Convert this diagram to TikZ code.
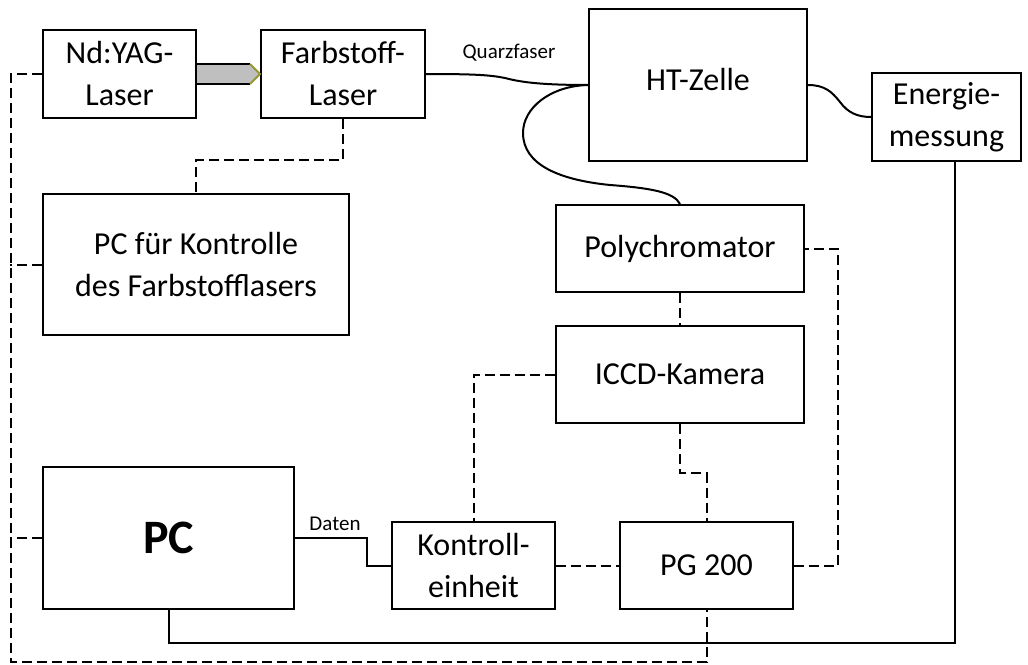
\documentclass[tikz,border=0pt]{standalone}
\usepackage{fontspec}
\setmainfont{Carlito}
\usetikzlibrary{calc}
\tikzset{
  box/.style={draw, line width=1pt, fill=white, inner sep=0pt, align=center,
    font=\fontsize{16}{21}\selectfont},
  conn/.style={line width=1pt},
  dconn/.style={line width=1pt, dash pattern=on 5pt off 2.5pt},
  small/.style={font=\fontsize{10.5}{12}\selectfont, inner sep=0pt},
}
\begin{document}
\begin{tikzpicture}[x=0.5pt, y=-0.5pt]
\useasboundingbox (0,0) rectangle (1028,664);

% boxes
\node[box, minimum width=76.5pt, minimum height=44pt] (nd) at (119.5,74) {Nd:YAG-\\Laser};
\node[box, minimum width=82pt, minimum height=44pt] (farb) at (343,74) {Farbstoff-\\Laser};
\node[box, minimum width=109pt, minimum height=76pt] (ht) at (698,85) {};
\node[font=\fontsize{16}{21}\selectfont, inner sep=0pt] (htt) at (698,79) {HT-Zelle};
\node[box, minimum width=74.5pt, minimum height=44pt] (en) at (946.5,117) {Energie-\\messung};
\node[box, minimum width=153pt, minimum height=70.5pt] (pck) at (196,264.5) {PC für Kontrolle\\des Farbstofflasers};
\node[box, minimum width=124pt, minimum height=43.5pt] (poly) at (680,248.5) {Polychromator};
\node[box, minimum width=124pt, minimum height=48.5pt] (iccd) at (680,374.5) {ICCD-Kamera};
\node[box, minimum width=125.5pt, minimum height=71pt, font=\fontsize{24}{28}\selectfont\bfseries] (pc) at (168.5,538) {PC};
\node[box, minimum width=81.5pt, minimum height=43.5pt] (ke) at (473.5,565.5) {Kontroll-\\einheit};
\node[box, minimum width=86.5pt, minimum height=43.5pt] (pg) at (706.5,565.5) {PG 200};

% pump beam arrow
\fill[gray!50] ($(nd.east)+(0,-10)$) -- ($(farb.west)+(-10,-10)$) -- (farb.west) -- ($(farb.west)+(-10,10)$) -- ($(nd.east)+(0,10)$) -- cycle;
\draw[conn] ($(nd.east)+(0,-10)$) -- ($(farb.west)+(-10,-10)$);
\draw[conn] ($(nd.east)+(0,10)$) -- ($(farb.west)+(-10,10)$);
\draw[line width=1pt, color={rgb,255:red,150;green,150;blue,50}] ($(farb.west)+(-10,-10)$) -- (farb.west) -- ($(farb.west)+(-10,10)$);

% fibres
\draw[conn] (farb.east) .. controls (475,74) and (490,75) .. (505,78) .. controls (520,82) and (540,85) .. (ht.west);
\node[small] (qf) at (509,53) {Quarzfaser};
\draw[conn] (ht.west) .. controls (550,86) and (523,108) .. (523,133) .. controls (523,165) and (560,180) .. (610,185) .. controls (650,188) and (674,192) .. (poly.north);
\draw[conn] (ht.east) .. controls (825,85) and (832,92) .. (840,102) .. controls (848,113) and (858,117) .. (en.west);

% solid cables
\draw[conn] ($(en.south)+(8.5,0)$) |- ($(pc.south)+(0,33)$) -- (pc.south);
\draw[conn] (pc.east) -| ($(ke.west)+(-24,0)$) -- (ke.west);
\node[small] (daten) at (335,524) {Daten};

% dashed control lines
\draw[dconn] (nd.west) -| (11,662) -| (pg.south);
\draw[dconn] (pck.west) -- ($(pck.west)+(-32,0)$);
\draw[dconn] (pc.west) -- ($(pc.west)+(-32,0)$);
\draw[dconn] (farb.south) -- ++(0,41) -| (pck.north);
\draw[dconn] (poly.south) -- (iccd.north);
\draw[dconn] (iccd.south) -- ++(0,49) -| (pg.north);
\draw[dconn] (iccd.west) -| (ke.north);
\draw[dconn] (ke.east) -- (pg.west);
\draw[dconn] (pg.east) -| ($(poly.east)+(33,0)$) -- (poly.east);
\end{tikzpicture}
\end{document}
